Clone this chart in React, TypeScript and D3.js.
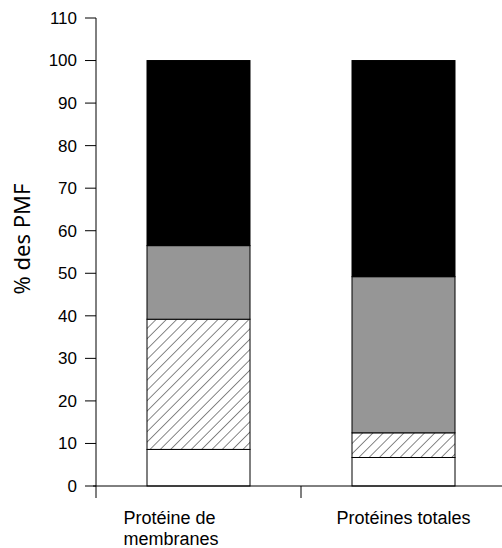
import React from "react";
import * as d3 from "d3";

const categories = ["Protéine de membranes", "Protéines totales"];
const categoryLines = [["Protéine de", "membranes"], ["Protéines totales"]];
const seriesNames = ["blanc", "hachuré", "gris", "noir"];
const whiteVals = [8.6, 6.7];
const hatchVals = [30.6, 5.8];
const grayVals = [17.3, 36.7];
const blackVals = [43.5, 50.8];
const yTicks = [0, 10, 20, 30, 40, 50, 60, 70, 80, 90, 100, 110];

const W = 502;
const H = 548;

export default function App() {
  const x = d3.scaleBand<string>().domain(categories).range([96, 506]).paddingInner(0).paddingOuter(0);
  const y = d3.scaleLinear().domain([0, 110]).range([486, 18]);
  const barW = 103;

  const series = [whiteVals, hatchVals, grayVals, blackVals];
  const fills = ["#ffffff", "url(#hatch)", "#969696", "#000000"];

  const rows = categories.map((c, i) => {
    const o: any = { cat: c };
    seriesNames.forEach((s, k) => (o[s] = series[k][i]));
    return o;
  });
  const stacked = d3.stack().keys(seriesNames)(rows);

  const font = "'Liberation Sans', Arial, sans-serif";

  return (
    <svg width={W} height={H} style={{ position: "absolute", left: 0, top: 0 }}>
      <defs>
        <pattern id="hatch" patternUnits="userSpaceOnUse" width={7.3} height={7.3} patternTransform="rotate(45)">
          <rect width={7.3} height={7.3} fill="#fff" />
          <line x1={0} y1={0} x2={0} y2={7.3} stroke="#111" strokeWidth={1} />
        </pattern>
      </defs>
      <rect width={W} height={H} fill="#fff" />
      {stacked.map((layer, k) => (
        <g key={layer.key}>
          {layer.map((d, i) => {
            const cx = (x(categories[i]) as number) + x.bandwidth() / 2;
            return (
              <rect
                key={i}
                x={cx - barW / 2}
                y={y(d[1])}
                width={barW}
                height={y(d[0]) - y(d[1])}
                fill={fills[k]}
                stroke="#000"
                strokeWidth={1}
              />
            );
          })}
        </g>
      ))}
      {/* y axis */}
      <line x1={96} x2={96} y1={y(110)} y2={498} stroke="#000" strokeWidth={1} />
      {yTicks.map((t) => (
        <g key={t}>
          <line x1={85} x2={96} y1={y(t)} y2={y(t)} stroke="#000" strokeWidth={1} />
          <text x={77} y={y(t)} dy="0.35em" textAnchor="end" fontSize={17} fontFamily={font} fill="#000">
            {t}
          </text>
        </g>
      ))}
      {/* x axis */}
      <line x1={93} x2={502} y1={y(0)} y2={y(0)} stroke="#000" strokeWidth={1} />
      {categories.map((c, i) => {
        const right = (x(c) as number) + x.bandwidth();
        return <line key={c} x1={right} x2={right} y1={y(0)} y2={498} stroke="#000" strokeWidth={1} />;
      })}
      {categoryLines.map((lines, i) => {
        const cx = (x(categories[i]) as number) + x.bandwidth() / 2;
        const multi = lines.length > 1;
        return (
          <text
            key={i}
            x={multi ? cx - 75 : cx}
            y={524}
            textAnchor={multi ? "start" : "middle"}
            fontSize={18}
            fontFamily={font}
            fill="#000"
          >
            {lines.map((l, j) => (
              <tspan key={j} x={multi ? cx - 75 : cx} dy={j === 0 ? 0 : 21}>
                {l}
              </tspan>
            ))}
          </text>
        );
      })}
      <text
        transform={`translate(30,${239}) rotate(-90)`}
        textAnchor="middle"
        fontSize={22}
        fontFamily="'Noto Sans', 'Open Sans', sans-serif"
        fill="#000"
      >
        % des PMF
      </text>
    </svg>
  );
}
